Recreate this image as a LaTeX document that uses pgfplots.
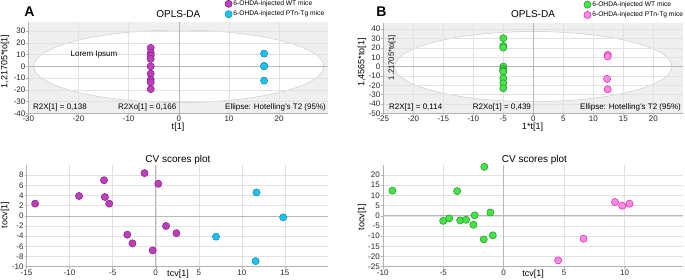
\documentclass[border=0pt]{standalone}
\usepackage{fontspec}
\setmainfont{Liberation Sans}
\usepackage{pgfplots}
\pgfplotsset{compat=1.18}
\definecolor{magF}{HTML}{BE3EBE}
\definecolor{magD}{HTML}{821F82}
\definecolor{cyaF}{HTML}{1DC2F0}
\definecolor{cyaD}{HTML}{0E86B0}
\definecolor{grnF}{HTML}{44E444}
\definecolor{grnD}{HTML}{23902A}
\definecolor{pnkF}{HTML}{FF8AE8}
\definecolor{pnkD}{HTML}{E0259E}
\definecolor{bgG}{HTML}{EFEFEF}
\definecolor{grd}{HTML}{E2E2E2}
\definecolor{zln}{HTML}{B8B8B8}
\pgfplotsset{
  base/.style={
    scale only axis, clip=false,
    axis x line*=bottom, axis y line*=left,
    axis line style={draw=gray!60, line width=0.4pt},
    tick style={draw=gray!60, line width=0.4pt},
    tick align=outside, major tick length=2pt,
    ticklabel style={font=\fontsize{8}{9}\selectfont, text=black!85},
    xticklabel style={yshift=2.6pt},
    yticklabel style={xshift=2.6pt},
    /pgf/number format/assume math mode=true,
    grid=major, major grid style={draw=grd, line width=0.4pt},
    extra x ticks={0}, extra x tick labels={},
    extra y ticks={0}, extra y tick labels={},
    extra tick style={grid=major, major grid style={draw=zln, line width=0.6pt}, major tick length=0pt},
    legend cell align=left,
    legend image code/.code={\draw[mark repeat=1,mark phase=1,##1] plot coordinates {(2pt,0pt)};},
  },
  bgax/.style={scale only axis, hide axis, clip=false},
  mk/.style 2 args={only marks, mark=*, mark size=3.6pt, mark options={fill=#1, draw=#2, line width=0.5pt}},
}
\newcommand{\lbl}{\fontsize{8}{9.6}\selectfont}
\begin{document}
\begin{tikzpicture}
% ---------------- A background
\begin{axis}[bgax, at={(28.3pt,166.7pt)}, anchor=south west,
  width=300pt, height=91.6pt, xmin=-30, xmax=29.8, ymin=-40, ymax=38]
\fill[bgG] (rel axis cs:0,0) rectangle (rel axis cs:1,1);
\draw[draw=gray!40, fill=white, line width=0.5pt] (axis cs:0,0) ellipse [x radius=28.9, y radius=30.8];
\end{axis}
% ---------------- A
\begin{axis}[base, at={(28.3pt,166.7pt)}, anchor=south west,
  width=300pt, height=91.6pt,
  xmin=-30, xmax=29.8, ymin=-40, ymax=38,
  xtick={-30,-20,...,20}, ytick={-40,-30,...,30},
  legend style={at={(rel axis cs:0.655,1.245)}, anchor=north west, draw=none, fill=none,
    font=\fontsize{6.7}{8}\selectfont, row sep=1.6pt, inner sep=0pt,
    nodes={inner sep=1.2pt}}]
\addplot[mk={magF}{magD}] coordinates {(-5.6,15.7) (-5.6,11.4) (-5.6,9.1) (-5.6,6.3) (-5.6,0) (-5.6,-6.3) (-5.6,-11.4) (-5.6,-13.7) (-5.6,-19.4)};
\addlegendentry{6-OHDA-injected WT mice}
\addplot[mk={cyaF}{cyaD}] coordinates {(17,10.8) (17,0.3) (17,0) (17,-12.2)};
\addlegendentry{6-OHDA-injected PTn-Tg mice}
\end{axis}
% ---------------- B background
\begin{axis}[bgax, at={(383.3pt,166.7pt)}, anchor=south west,
  width=300pt, height=90.6pt, xmin=-25, xmax=25, ymin=-50, ymax=47]
\fill[bgG] (rel axis cs:0,0) rectangle (rel axis cs:1,1);
\draw[draw=gray!40, fill=white, line width=0.5pt] (axis cs:0,0) ellipse [x radius=23.1, y radius=37.5];
\end{axis}
% ---------------- B
\begin{axis}[base, at={(383.3pt,166.7pt)}, anchor=south west,
  width=300pt, height=90.6pt,
  xmin=-25, xmax=25, ymin=-50, ymax=47,
  xtick={-25,-20,...,20}, ytick={-50,-40,...,40},
  legend style={at={(rel axis cs:0.668,1.25)}, anchor=north west, draw=none, fill=none,
    font=\fontsize{6.7}{8}\selectfont, row sep=1.6pt, inner sep=0pt,
    nodes={inner sep=1.2pt}}]
\addplot[mk={grnF}{grnD}] coordinates {(-5,30.4) (-5,22.1) (-5,20.4) (-5,0) (-5,-2.5) (-5,-4.3) (-5,-5.4) (-5,-12.5) (-5,-17.9) (-5,-23.2)};
\addlegendentry{6-OHDA-injected WT mice}
\addplot[mk={pnkF}{pnkD}] coordinates {(12.4,12.5) (12.4,10.9) (12.3,-13.2) (12.4,-24.3)};
\addlegendentry{6-OHDA-injected PTn-Tg mice}
\end{axis}
% ---------------- C
\begin{axis}[base, at={(26.5pt,13.3pt)}, anchor=south west,
  width=301.5pt, height=101.7pt,
  xmin=-15, xmax=20, ymin=-10, ymax=10,
  xtick={-15,-10,...,15}, ytick={-10,-8,...,8}]
\addplot[mk={magF}{magD}] coordinates {(-14.0,2.4) (-8.9,3.9) (-6.0,7.0) (-5.9,3.7) (-5.4,2.4) (-1.3,8.4) (0.3,6.3) (1.2,-2.0) (2.4,-3.4) (-3.3,-3.7) (-2.7,-5.4) (-0.35,-6.8)};
\addplot[mk={cyaF}{cyaD}] coordinates {(11.7,4.6) (14.8,-0.3) (7.0,-4.1) (11.6,-8.9)};
\end{axis}
% ---------------- D
\begin{axis}[base, at={(382.7pt,13.3pt)}, anchor=south west,
  width=300pt, height=101.9pt,
  xmin=-10, xmax=14.8, ymin=-25, ymax=25,
  xtick={-10,-5,...,10}, ytick={-25,-20,...,20}]
\addplot[mk={grnF}{grnD}] coordinates {(-9.2,12.3) (-1.6,24.0) (-3.85,12.1) (-5.0,-2.5) (-4.5,-1.3) (-3.6,-2.3) (-3.1,-2.0) (-2.4,0.2) (-2.5,-4.4) (-1.1,1.6) (-1.65,-11.6) (-0.9,-9.6)};
\addplot[mk={pnkF}{pnkD}] coordinates {(9.2,6.7) (9.8,4.9) (10.4,5.9) (6.6,-11.3) (4.5,-21.9)};
\end{axis}
% ---------------- texts
\node[font=\bfseries\fontsize{14}{16}\selectfont] at (29.5pt,268.7pt) {A};
\node[font=\bfseries\fontsize{14}{16}\selectfont] at (381.5pt,268.7pt) {B};
\node[font=\fontsize{10}{12}\selectfont, anchor=base] at (178.3pt,262.7pt) {OPLS-DA};
\node[font=\fontsize{10}{12}\selectfont, anchor=base] at (533pt,262.7pt) {OPLS-DA};
\node[font=\fontsize{10}{12}\selectfont, anchor=base] at (178pt,117.3pt) {CV scores plot};
\node[font=\fontsize{10}{12}\selectfont, anchor=base] at (534.5pt,117.3pt) {CV scores plot};
\node[font=\lbl, anchor=base] at (94pt,223.5pt) {Lorem Ipsum};
\node[font=\lbl, anchor=base west, inner sep=0pt] at (33pt,170.5pt) {R2X[1] = 0,138};
\node[font=\lbl, anchor=base west, inner sep=0pt] at (118pt,170.5pt) {R2Xo[1] = 0,166};
\node[font=\lbl, anchor=base east, inner sep=0pt] at (326pt,170.5pt) {Ellipse: Hotelling's T2 (95\%)};
\node[font=\lbl, anchor=base west, inner sep=0pt] at (389pt,170.5pt) {R2X[1] = 0,114};
\node[font=\lbl, anchor=base west, inner sep=0pt] at (472.7pt,170.5pt) {R2Xo[1] = 0,439};
\node[font=\lbl, anchor=base east, inner sep=0pt] at (681pt,170.5pt) {Ellipse: Hotelling's T2 (95\%)};
\node[font=\fontsize{9}{10}\selectfont, anchor=base] at (178pt,150pt) {t[1]};
\node[font=\fontsize{9}{10}\selectfont, anchor=base] at (532.5pt,150pt) {1*t[1]};
\node[font=\fontsize{9}{10}\selectfont, anchor=base] at (178pt,3.5pt) {tcv[1]};
\node[font=\fontsize{9}{10}\selectfont, anchor=base] at (533pt,3.5pt) {tcv[1]};
\node[font=\fontsize{9}{10}\selectfont, rotate=90, inner sep=0pt] at (5pt,218.5pt) {1,21705*to[1]};
\node[font=\fontsize{9}{10}\selectfont, rotate=90, inner sep=0pt] at (362pt,217.5pt) {1,4565*to[1]};
\node[font=\fontsize{7.6}{9}\selectfont, rotate=90, inner sep=0pt] at (392pt,222.5pt) {1,21705*to[1]};
\node[font=\fontsize{9}{10}\selectfont, rotate=90, inner sep=0pt] at (5pt,65pt) {tocv[1]};
\node[font=\fontsize{9}{10}\selectfont, rotate=90, inner sep=0pt] at (362pt,63pt) {tocv[1]};
\pgfresetboundingbox
\path[use as bounding box] (0,0) rectangle (685pt,280pt);
\end{tikzpicture}
\end{document}
